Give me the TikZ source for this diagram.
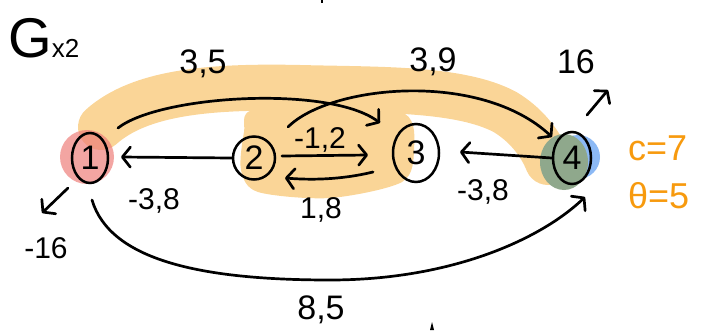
\documentclass[tikz,border=0pt]{standalone}
\usepackage{fontspec}
\setmainfont{Liberation Sans}
\usetikzlibrary{arrows.meta,shapes.geometric,calc}
\definecolor{bandc}{HTML}{FAD597}
\definecolor{redc}{HTML}{EE7F7A}
\definecolor{greenc}{HTML}{8FA88C}
\definecolor{bluec}{HTML}{8CB9F5}
\definecolor{textorange}{HTML}{F79A0E}
\begin{document}
\begin{tikzpicture}[x=1pt,y=-1pt,
  vert/.style={ellipse, draw, line width=2.5pt, inner sep=0pt, font=\fontsize{34}{34}\selectfont},
  edge/.style={line width=2.7pt, line cap=round, line join=round,
    -{Straight Barb[length=8pt,width=20pt,line width=2.7pt,round]}},
  lbl/.style={inner sep=0pt, font=\fontsize{30}{30}\selectfont},
  biglbl/.style={inner sep=0pt, font=\fontsize{34}{34}\selectfont},
  olbl/.style={inner sep=0pt, anchor=base west, text=textorange, font=\fontsize{36}{36}\selectfont}]
\useasboundingbox (0,0) rectangle (721,330);
% highlights
\draw[bandc, line width=46pt, line cap=round] (101,127) .. controls (140,92) and (210,86) .. (300,88)
  .. controls (380,90) and (460,88) .. (505,112) .. controls (525,124) and (540,142) .. (548,162);
\fill[bandc] plot[smooth cycle] coordinates {(252,110) (330,104) (405,114) (414,150) (402,182) (330,198) (258,192) (241,170) (244,132)};
\fill[redc, opacity=0.7] (87,157) circle (27);
\fill[bluec] (578,157) circle (22);
\fill[greenc] (564,162) ellipse (24 and 28);
% vertices
\node[vert, minimum width=36pt, minimum height=50pt] (n1) at (90,158) {1};
\node[vert, minimum width=42pt, minimum height=43pt] (n2) at (254,158) {2};
\node[vert, minimum width=46pt, minimum height=58pt] (n3) at (416,153) {3};
\node[vert, minimum width=38pt, minimum height=52pt] (n4) at (572,158) {4};
% edges
\draw[edge] ($(n1.center)+(28,-30)$) .. controls (160,95) and (330,85) .. ($(n3.center)+(-36,-30)$);
\draw[edge] ($(n2.center)+(34,-31)$) .. controls (330,85) and (480,70) .. ($(n4.center)+(-20,-21)$);
\draw[edge] (n2.west) -- ($(n1.center)+(31,-1)$);
\draw[edge] ($(n2.center)+(28,-2)$) -- ($(n3.center)+(-48,2)$);
\draw[edge] ($(n3.center)+(-43,19)$) .. controls (340,180) and (310,180) .. ($(n2.center)+(31,20)$);
\draw[edge] (n4.west) -- ($(n3.center)+(44,-1)$);
\draw[edge] ($(n1.center)+(2,42)$) .. controls (110,260) and (200,280) .. (330,280)
  .. controls (450,280) and (540,240) .. ($(n4.center)+(13,39)$);
\coordinate (s1) at (42,213);
\draw[edge] ($(n1.center)+(-22,30)$) -- (s1);
\coordinate (t4) at (608,90);
\draw[edge] ($(n4.center)+(15,-43)$) -- (t4);
% labels
\node[biglbl] (l35) at (203,64) {3,5};
\node[biglbl] (l39) at (433,62) {3,9};
\node[biglbl] (l16) at (576,62) {16};
\node[lbl] (l12) at (320,140) {-1,2};
\node[lbl] (l38a) at (154,201) {-3,8};
\node[lbl] (l18) at (321,210) {1,8};
\node[lbl] (l38b) at (483,192) {-3,8};
\node[lbl] (lm16) at (46,248) {-16};
\node[biglbl] (l85) at (321,310) {8,5};
\node[anchor=base west, inner sep=0pt] (title) at (8,57) {\fontsize{56}{56}\selectfont G\fontsize{26}{26}\selectfont x2};
\node[olbl] (cc) at (628,160) {c=7};
\node[olbl] (th) at (628,208) {θ=5};
% stray marks at the edges
\draw[line width=2pt] (322,0) -- (322,3);
\fill (430,330) -- (432,322) -- (434,330) -- cycle;
\end{tikzpicture}
\end{document}
